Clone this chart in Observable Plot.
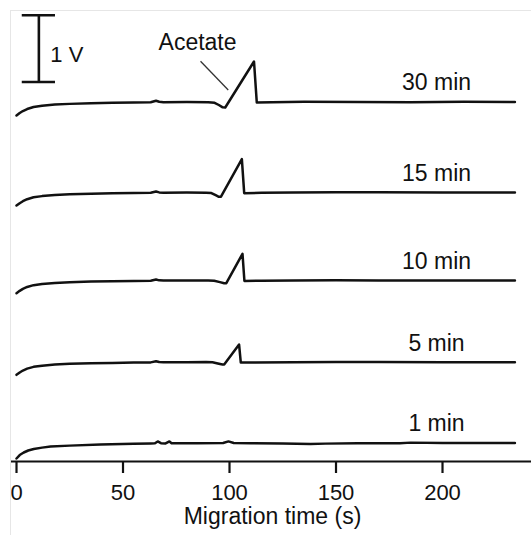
<!DOCTYPE html>
<html><head><meta charset="utf-8">
<script src="https://cdn.jsdelivr.net/npm/d3@7"></script>
<script src="https://cdn.jsdelivr.net/npm/@observablehq/plot@0.6"></script>
<style>
html,body{margin:0;padding:0;background:#fff;}
#wrap{position:relative;width:531px;height:535px;}
#border{position:absolute;left:10px;top:10px;right:0;bottom:0;border-top:1px solid #e6e6e6;border-left:1px solid #e6e6e6;pointer-events:none;}
</style></head><body><div id="wrap"><div id="border"></div></div>
<script>
// Series (injection times) and their vertical stacking offsets (V)
const seriesLabels = ["30 min", "15 min", "10 min", "5 min", "1 min"];
const offsets = [5.39, 4.033, 2.714, 1.489, 0.277];

// Migration time (s) and signal relative to baseline (V)
const t30 = [0,1.5,3,5,8,12,18,25,35,45,55,63,65.5,67,69,80,90,93,95,96.8,98,111.5,112.8,120,135,160,185,210,234];
const v30 = [-0.202,-0.165,-0.135,-0.105,-0.075,-0.057,-0.039,-0.028,-0.019,-0.013,-0.007,-0.004,0.019,0.004,-0.003,0,-0.004,-0.012,-0.045,-0.08,-0.082,0.607,-0.006,-0.003,0.002,0,-0.003,0.002,0];

const t15 = [0,1.5,3,5,8,12,18,25,35,45,55,63,65.5,67,69,80,89,91.5,93.5,95,96,105.8,106.9,115,130,150,170,200,234];
const v15 = [-0.195,-0.16,-0.13,-0.1,-0.072,-0.054,-0.037,-0.026,-0.018,-0.012,-0.007,-0.004,0.015,0.002,-0.003,0,-0.002,-0.008,-0.04,-0.064,-0.062,0.50,-0.01,-0.004,0,0.003,0.003,0,0];

const t10 = [0,1.5,3,5,8,12,18,25,35,45,55,63,65.5,67,69,80,90,92.8,95.5,97.5,98.5,106.1,107,115,130,150,170,200,234];
const v10 = [-0.19,-0.155,-0.125,-0.097,-0.07,-0.052,-0.036,-0.025,-0.017,-0.011,-0.006,-0.003,0.014,0.002,-0.002,0,-0.002,-0.005,-0.025,-0.042,-0.04,0.40,-0.008,-0.004,0,0.002,0,-0.002,0];

const t5 = [0,1.5,3,5,8,12,18,25,35,45,55,63,65.5,67,69,80,89,92,94.5,96.7,97.5,104.5,105.3,112,130,150,170,200,234];
const v5 = [-0.19,-0.155,-0.125,-0.097,-0.07,-0.052,-0.036,-0.025,-0.017,-0.011,-0.006,-0.003,0.014,0.002,-0.002,0,0.004,0,-0.02,-0.036,-0.034,0.265,-0.005,-0.003,0,0.002,0.004,0,0];

const t1 = [0,1.5,3.4,5.5,8.1,12,16,25,39.4,55,63,65,66.3,67.8,70,71.8,72.8,74.5,85,97,99.5,102,110,125,138,145,160,180,185,200,234];
const v1 = [-0.232,-0.18,-0.142,-0.112,-0.09,-0.069,-0.052,-0.039,-0.022,-0.012,-0.006,-0.004,0.024,-0.002,-0.006,0.024,-0.002,-0.004,-0.003,0,0.024,0,-0.004,-0.006,-0.013,-0.009,-0.004,-0.002,0.006,0,0];

const xTicks = [0, 50, 100, 150, 200];
const xTitle = "Migration time (s)";
const peakLabel = "Acetate";
const scaleLabel = "1 V";

const times = [t30, t15, t10, t5, t1];
const values = [v30, v15, v10, v5, v1];

const rows = [];
seriesLabels.forEach((s, i) => {
  times[i].forEach((t, j) => rows.push({series: s, t, v: offsets[i] + values[i][j]}));
});
const labelRows = seriesLabels.map((s, i) => ({label: s, v: offsets[i]}));

const font = "'Liberation Sans', Arial, Helvetica, sans-serif";
const ink = "#111";

const plot = Plot.plot({
  width: 531,
  height: 535,
  marginLeft: 10,
  marginRight: 0,
  marginTop: 10,
  marginBottom: 74,
  x: {domain: [-2.82, 241.78]},
  y: {domain: [0, 6.762], axis: null},
  style: {fontFamily: font, fontSize: "22px", color: ink, background: "transparent", overflow: "visible"},
  marks: [
    Plot.ruleY([0], {stroke: ink, strokeWidth: 2.2}),
    Plot.axisX({ticks: xTicks, tickSize: 12, tickPadding: 11, stroke: ink, strokeWidth: 2.2, tickFormat: d => String(d), label: null, fontSize: 22, fill: ink}),
    Plot.text([xTitle], {x: () => 120.2, frameAnchor: "bottom", dy: 62.6, text: d => d, fontSize: 23, fill: ink}),
    Plot.line(rows, {x: "t", y: "v", z: "series", stroke: ink, strokeWidth: 2.5, strokeLinejoin: "round"}),
    Plot.text(labelRows, {x: () => 197.2, y: "v", text: "label", dy: -19, fontSize: 23, fill: ink}),
    // scale bar (1 V)
    Plot.ruleX([{t: 10.5, y1: 5.69, y2: 6.69}], {x: "t", y1: "y1", y2: "y2", stroke: ink, strokeWidth: 2.6}),
    Plot.ruleY([5.69, 6.69], {y: d => d, x1: () => 2.7, x2: () => 18.3, stroke: ink, strokeWidth: 2.6}),
    Plot.text([scaleLabel], {x: () => 15.9, y: () => 6.10, text: d => d, textAnchor: "start", fontSize: 22, fill: ink}),
    // Acetate annotation
    Plot.text([peakLabel], {x: () => 85.0, y: () => 6.273, text: d => d, fontSize: 23, fill: ink}),
    Plot.link([{x1: 86.4, y1: 6.0, x2: 99.4, y2: 5.57}], {x1: "x1", y1: "y1", x2: "x2", y2: "y2", stroke: "#333", strokeWidth: 1.3})
  ]
});
document.getElementById("wrap").appendChild(plot);
</script>
</body></html>
